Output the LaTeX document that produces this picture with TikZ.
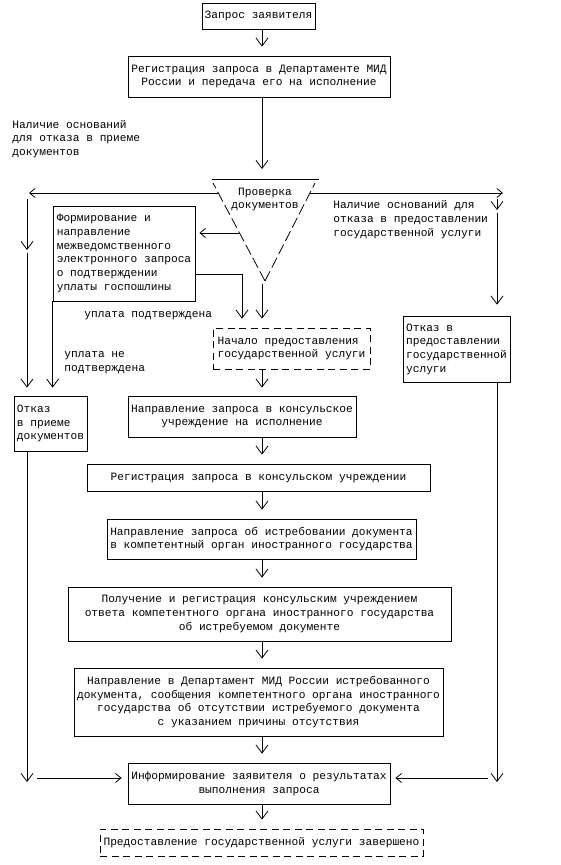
\documentclass[tikz,border=0pt]{standalone}
\usepackage{fontspec}
\setmainfont{Liberation Mono}
\usetikzlibrary{arrows.meta}

\begin{document}
\begin{tikzpicture}[x=1pt,y=-1pt,line width=0.8pt,
    font=\fontsize{11.2}{13.7}\selectfont,
    blok/.style={draw,inner sep=0pt,align=center},
    punktir/.style={blok,dash pattern=on 7pt off 4.5pt},
    metka/.style={inner sep=0pt,align=left,anchor=west},
    kosaya/.style={dash pattern=on 11pt off 4pt},
    sv/.style={-{Straight Barb[length=8pt,width=12pt]}},
    sg/.style={-{Straight Barb[length=5.5pt,width=9pt]}}]
  \useasboundingbox (0,0) rectangle (561,865);
  % blocks
  \node[blok,minimum width=113,minimum height=26] (zapros) at (258.5,16) {Запрос заявителя};
  \node[blok,minimum width=262,minimum height=41] (reg) at (259,76.5)
    {Регистрация запроса в Департаменте МИД\\ России и передача его на исполнение};
  \node[blok,align=left,minimum width=142,minimum height=95] (form) at (124,253.5)
    {Формирование и\\направление\\межведомственного\\электронного запроса\\о подтверждении\\уплаты госпошлины};
  \node[punktir,align=left,minimum width=157,minimum height=41] (nachalo) at (291.5,348.5)
    {Начало предоставления\\государственной услуги};
  \node[blok,align=left,minimum width=107,minimum height=66] (otkazPred) at (456.5,349)
    {Отказ в\\предоставлении\\государственной\\услуги};
  \node[blok,align=left,minimum width=73,minimum height=55] (otkazPriem) at (50.5,423.5)
    {Отказ\\в приеме\\документов};
  \node[blok,minimum width=228,minimum height=41] (napr) at (242,416.5)
    {Направление запроса в консульское\\учреждение на исполнение};
  \node[blok,minimum width=343,minimum height=27] (regKons) at (258.5,477.5)
    {Регистрация запроса в консульском учреждении};
  \node[blok,minimum width=309,minimum height=40] (istreb) at (261.5,539)
    {Направление запроса об истребовании документа\\в компетентный орган иностранного государства};
  \node[blok,minimum width=383,minimum height=54] (poluch) at (259.5,614)
    {Получение и регистрация консульским учреждением\\ответа компетентного органа иностранного государства\\об истребуемом документе};
  \node[blok,minimum width=369,minimum height=68] (dept) at (258.5,702)
    {Направление в Департамент МИД России истребованного\\документа, сообщения компетентного органа иностранного\\государства об отсутствии истребуемого документа\\с указанием причины отсутствия};
  \node[blok,minimum width=262,minimum height=41] (inform) at (259,783.5)
    {Информирование заявителя о результатах\\выполнения запроса};
  \node[punktir,minimum width=323,minimum height=27] (zaversh) at (261.5,842.5)
    {Предоставление государственной услуги завершено};

  % check triangle
  \coordinate (ta) at (212,179);
  \coordinate (tb) at (319,179);
  \coordinate (tc) at (265,281);
  \draw (ta) -- (tb);
  \draw[kosaya] (tc) -- (213,183);
  \draw[kosaya] (tc) -- (315,183);
  \node[inner sep=0pt,align=center] (prov) at (265,199.5) {Проверка\\документов};

  % labels
  \node[metka] (osnPriem) at (12,139) {Наличие оснований\\для отказа в приеме\\документов};
  \node[metka] (osnPred) at (333,219.5) {Наличие оснований для\\отказа в предоставлении\\государственной услуги};
  \node[metka] (uplDa) at (84,316) {уплата подтверждена};
  \node[metka] (uplNet) at (64,362.5) {уплата не\\подтверждена};

  % points
  \coordinate (os) at (262,0);
  \coordinate (lv) at (27,0);
  \coordinate (pr) at (497,0);
  \coordinate (fp) at (242,0);
  \coordinate (nz) at (0,778);
  \coordinate (verh) at (262,179);
  \coordinate (tniz) at (262,284);
  \coordinate (tlev) at (218,193);
  \coordinate (tprav) at (310,193);
  \coordinate (tform) at (240,233);
  \coordinate (levo) at (29,193);
  \coordinate (pravo) at (503,193);
  \coordinate (l1) at (27,199);
  \coordinate (l2) at (27,250);
  \coordinate (l3) at (27,253);
  \coordinate (p1) at (497,199);
  \coordinate (p2) at (497,210);
  \coordinate (p3) at (497,213);
  \coordinate (lniz) at (27,782);
  \coordinate (pniz) at (497,782);
  \coordinate (lgor) at (37,778);
  \coordinate (pgor) at (488,778);

  % main column
  \draw[sv,shorten >=9pt] (zapros.south -| os) -- (reg.north -| os);
  \draw[sv,shorten >=10pt] (reg.south -| os) -- (verh);
  \draw[sv,shorten >=9pt] (tniz) -- (nachalo.north -| os);
  \draw[sv,shorten >=8pt] (nachalo.south -| os) -- (napr.north -| os);
  \draw[sv,shorten >=9pt] (napr.south -| os) -- (regKons.north -| os);
  \draw[sv,shorten >=9pt] (regKons.south -| os) -- (istreb.north -| os);
  \draw[sv,shorten >=9pt] (istreb.south -| os) -- (poluch.north -| os);
  \draw[sv,shorten >=9pt] (poluch.south -| os) -- (dept.north -| os);
  \draw[sv,shorten >=9pt] (dept.south -| os) -- (inform.north -| os);
  \draw[sv,shorten >=9pt] (inform.south -| os) -- (zaversh.north -| os);

  % left branch
  \draw[sg] (tlev) -- (levo);
  \draw[sv] (l1) -- (l2);
  \draw[sv,shorten >=8pt] (l3) -- (otkazPriem.north -| lv);
  \draw[sv,shorten >=8pt] (form.south west) -- (form.south west |- otkazPriem.north);
  \draw[sg,shorten >=4pt] (tform) -- (tform -| form.east);
  \draw[sv,shorten >=9pt] ([yshift=-20.5pt]form.east) -| (fp |- nachalo.north);
  \draw[sv] (otkazPriem.south -| lv) -- (lniz);
  \draw[sg,shorten >=6pt] (lgor) -- (inform.west |- nz);

  % right branch
  \draw[sg] (tprav) -- (pravo);
  \draw[sv] (p1) -- (p2);
  \draw[sv,shorten >=11pt] (p3) -- (otkazPred.north -| pr);
  \draw[sv] (otkazPred.south -| pr) -- (pniz);
  \draw[sg,shorten >=5pt] (pgor) -- (inform.east |- nz);
\end{tikzpicture}
\end{document}
